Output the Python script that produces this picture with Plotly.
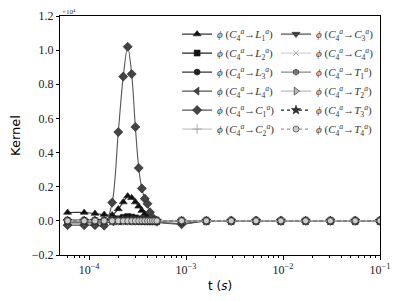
import plotly.graph_objects as go

# time samples (s)
t = [6.0e-5, 8.9e-5, 1.15e-4, 1.43e-4, 1.73e-4, 2.0e-4, 2.25e-4, 2.5e-4, 2.75e-4,
     3.0e-4, 3.25e-4, 3.5e-4, 3.75e-4, 4.0e-4, 4.25e-4, 4.5e-4, 4.75e-4, 5.0e-4,
     9.0e-4, 1.62e-3, 2.92e-3, 5.27e-3, 9.5e-3, 1.71e-2, 3.08e-2, 5.55e-2, 0.1]

# kernel values (x 10^4)
k_L1 = [0.049, 0.049, 0.043, 0.037, 0.035, 0.07, 0.11, 0.145, 0.135, 0.11, 0.085, 0.06,
        0.04, 0.03, 0.015, 0.005, 0.0, 0.0, 0.0, 0.0, 0.0, 0.0, 0.0, 0.0, 0.0, 0.0, 0.0]
k_L2 = [0.0, 0.0, 0.0, 0.0, 0.005, 0.012, 0.02, 0.025, 0.022, 0.017, 0.012, 0.008,
        0.005, 0.003, 0.002, 0.001, 0.0, 0.0, 0.0, 0.0, 0.0, 0.0, 0.0, 0.0, 0.0, 0.0, 0.0]
k_L3 = [0.005, 0.005, 0.005, 0.005, 0.006, 0.008, 0.01, 0.012, 0.011, 0.009, 0.007, 0.005,
        0.004, 0.003, 0.002, 0.001, 0.0, 0.0, 0.0, 0.0, 0.0, 0.0, 0.0, 0.0, 0.0, 0.0, 0.0]
k_L4 = [-0.012, -0.012, -0.012, -0.012, -0.006, 0.0, 0.004, 0.006, 0.005, 0.003, 0.002, 0.001,
        0.0, 0.0, 0.0, 0.0, 0.0, 0.0, 0.0, 0.0, 0.0, 0.0, 0.0, 0.0, 0.0, 0.0, 0.0]
k_C1 = [-0.025, -0.025, -0.025, -0.028, 0.107, 0.52, 0.845, 1.02, 0.86, 0.55, 0.31, 0.19,
        0.13, 0.10, 0.05, 0.02, 0.005, -0.005, -0.02, 0.0, 0.0, 0.0, 0.0, 0.0, 0.0, 0.0, 0.0]
k_C2 = [0.0] * 27
k_C3 = [-0.005, -0.005, -0.005, -0.005, 0.0, 0.0, 0.0, 0.0, 0.0, 0.0, 0.0, 0.0,
        0.0, 0.0, 0.0, 0.0, 0.0, -0.005, -0.015, 0.0, 0.0, 0.0, 0.0, 0.0, 0.0, 0.0, 0.0]
k_C4 = [0.0] * 27
k_T1 = [0.0] * 27
k_T2 = [0.0] * 27
k_T3 = [0.0] * 27
k_T4 = [0.0] * 27

targets = ["L<sub>1</sub>", "L<sub>2</sub>", "L<sub>3</sub>", "L<sub>4</sub>",
           "C<sub>1</sub>", "C<sub>2</sub>", "C<sub>3</sub>", "C<sub>4</sub>",
           "T<sub>1</sub>", "T<sub>2</sub>", "T<sub>3</sub>", "T<sub>4</sub>"]
values = [k_L1, k_L2, k_L3, k_L4, k_C1, k_C2, k_C3, k_C4, k_T1, k_T2, k_T3, k_T4]

styles = [
    dict(symbol="triangle-up", color="#111111", lc="#333333", dash="solid", shape="spline", size=7),
    dict(symbol="square", color="#111111", lc="#222222", dash="solid", shape="spline", size=6),
    dict(symbol="circle", color="#222222", lc="#333333", dash="solid", shape="spline", size=6),
    dict(symbol="triangle-left", color="#444444", lc="#555555", dash="solid", shape="spline", size=7),
    dict(symbol="diamond", color="#444444", lc="#555555", dash="solid", shape="spline", size=7),
    dict(symbol="cross-thin", color="#999999", lc="#aaaaaa", dash="solid", shape="linear", size=7),
    dict(symbol="triangle-down", color="#444444", lc="#555555", dash="solid", shape="spline", size=7),
    dict(symbol="x-thin", color="#aaaaaa", lc="#bbbbbb", dash="solid", shape="linear", size=6),
    dict(symbol="hexagon", color="#777777", lc="#888888", dash="solid", shape="linear", size=6),
    dict(symbol="triangle-right", color="#bbbbbb", lc="#bbbbbb", dash="solid", shape="linear", size=7),
    dict(symbol="star", color="#333333", lc="#222222", dash="dot", shape="linear", size=7),
    dict(symbol="circle", color="#cccccc", lc="#999999", dash="dot", shape="linear", size=6),
]

def label(tgt):
    return ("<i>ϕ</i> (<i>C</i><sub>4</sub><sup><i>a</i></sup>→<i>" + tgt[0] + "</i>"
            + tgt[1:] + "<sup><i>a</i></sup>)")

fig = go.Figure()
for i, (tgt, vals, st) in enumerate(zip(targets, values, styles)):
    thin = st["symbol"].endswith("thin")
    fig.add_trace(go.Scatter(
        x=t, y=vals, mode="lines+markers", name=label(tgt),
        legend="legend" if i < 6 else "legend2",
        line=dict(color=st["lc"], width=0.8 if thin else 1.1, dash=st["dash"],
                  shape=st["shape"], smoothing=0.9),
        marker=dict(symbol=st["symbol"], size=st["size"], color=st["color"],
                    line=dict(color=st["color"] if thin else "#222222", width=0.8 if thin else 0.6)),
    ))

minor_vals = [m * 10 ** e for e in range(-5, -1) for m in range(2, 10)]

serif = "Liberation Serif"
# the page body adds an 8 px offset, so the figure is sized to the visible window
fig.update_layout(
    width=391, height=293,
    margin=dict(l=52, r=19, t=8, b=46, autoexpand=False),
    paper_bgcolor="white", plot_bgcolor="white",
    showlegend=True,
    legend=dict(x=0.366, y=0.985, xanchor="left", yanchor="top", bgcolor="rgba(0,0,0,0)",
                font=dict(family=serif, size=11, color="#333333"), tracegroupgap=0),
    legend2=dict(x=0.675, y=0.985, xanchor="left", yanchor="top", bgcolor="rgba(0,0,0,0)",
                 font=dict(family=serif, size=11, color="#333333"), tracegroupgap=0),
    xaxis=dict(type="log", range=[-4.30, -1.0], automargin=False,
               tickvals=[1e-4, 1e-3, 1e-2, 1e-1],
               ticktext=["10<sup>−4</sup>", "10<sup>−3</sup>", "10<sup>−2</sup>", "10<sup>−1</sup>"],
               ticks="outside", ticklen=4, tickcolor="black", ticklabeloverflow="allow",
               minor=dict(tickvals=minor_vals, ticks="outside", ticklen=2, tickcolor="black", showgrid=False),
               showgrid=False, zeroline=False,
               showline=True, linecolor="black", linewidth=1, mirror=True,
               tickfont=dict(family=serif, size=12, color="#222222"),
               title=dict(text="t (<i>s</i>)", font=dict(family="DejaVu Sans", size=12, color="black"),
                          standoff=5)),
    yaxis=dict(range=[-0.2, 1.2], dtick=0.2, tick0=0, tickformat=".1f", automargin=False,
               ticks="outside", ticklen=3, tickcolor="black", ticklabeloverflow="allow",
               showgrid=False, zeroline=False,
               showline=True, linecolor="black", linewidth=1, mirror=True,
               tickfont=dict(family=serif, size=12, color="#222222"),
               title=dict(text="Kernel", font=dict(family="DejaVu Sans", size=13, color="black"),
                          standoff=9)),
    annotations=[dict(text="×10⁴", xref="paper", yref="paper", x=0.0, y=1.017,
                      xanchor="left", yanchor="middle", showarrow=False,
                      font=dict(family=serif, size=7, color="#333333"))],
)

fig.write_html("out.html")
